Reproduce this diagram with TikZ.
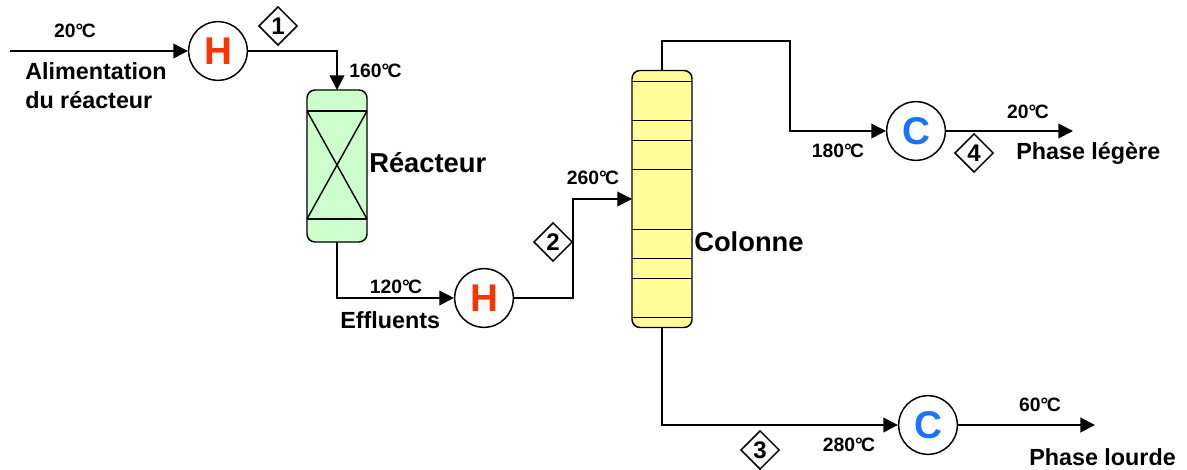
\documentclass[tikz,border=0pt]{standalone}
\usepackage{fontspec}
\setmainfont{Liberation Sans}
\usetikzlibrary{arrows.meta,shapes.geometric}
\definecolor{myheatred}{RGB}{255,51,0}
\definecolor{mycoolblue}{RGB}{26,115,255}
\definecolor{myreactorgreen}{RGB}{204,255,204}
\definecolor{mycolumnyellow}{RGB}{255,255,153}
\newcommand{\degC}{°\kern-0.08em C}
\newcommand{\temp}[1]{#1\degC}
\tikzset{
    pipe/.style={line width=1.4pt},
    flow/.style={pipe, -{Triangle[length=11pt, width=11pt]}},
    exch/.style={draw, circle, line width=1.1pt, fill=white, minimum size=44pt, inner sep=0pt, font=\fontsize{29}{29}\selectfont\bfseries},
    heater/.style={exch, text=myheatred},
    cooler/.style={exch, text=mycoolblue},
    vessel/.style={draw, rectangle, rounded corners=6pt, line width=1.1pt, minimum width=45pt, inner sep=0pt, outer sep=0pt},
    tray/.style={line width=1.1pt},
    stream/.style={diamond, draw, line width=1.1pt, fill=white, inner sep=0pt, minimum size=29pt, font=\fontsize{18}{18}\selectfont\bfseries},
    tlabel/.style={inner sep=0pt, font=\fontsize{14.5}{17}\selectfont\bfseries},
    slabel/.style={anchor=west, inner sep=0pt, font=\fontsize{17.5}{21.75}\selectfont\bfseries},
    ulabel/.style={anchor=west, inner sep=0pt, font=\fontsize{20.5}{24}\selectfont\bfseries}
}
\begin{document}
\begin{tikzpicture}[x=0.75pt, y=-0.75pt]
    \useasboundingbox (0,0) rectangle (1187,470);

    \node[heater] (h1) at (218,51) {H};
    \node[heater] (h2) at (484,298) {H};
    \node[cooler] (c1) at (916,131) {C};
    \node[cooler] (c2) at (928,425) {C};
    \node[vessel, fill=myreactorgreen, minimum height=114pt] (reactor) at (337,166) {};
    \node[vessel, fill=mycolumnyellow, minimum height=192.75pt] (col) at (662,199) {};

    \draw[tray] (reactor.north west) ++(0,21) coordinate (rtl) -- ++(60,0) coordinate (rtr);
    \draw[tray] (reactor.south west) ++(0,-23) coordinate (rbl) -- ++(60,0) coordinate (rbr);
    \draw[tray] (rtl) -- (rbr) (rtr) -- (rbl);
    \foreach \t in {11,50,70,99,159,188,208,247}
        \draw[tray] (col.north west) ++(0,\t) -- ++(60,0);

    \coordinate (feed) at (10,51);
    \coordinate (riser) at (573,199);
    \coordinate (top) at (790,41);
    \coordinate (light) at (1073,131);
    \coordinate (heavy) at (1095,425);

    \draw[flow] (feed) -- (h1);
    \draw[flow] (h1) -| (reactor);
    \draw[flow] (reactor) |- (h2);
    \draw[flow] (h2) -| (riser) -- (col);
    \draw[flow] (col) |- (top) |- (c1);
    \draw[flow] (c1) -- (light);
    \draw[flow] (col) |- (c2);
    \draw[flow] (c2) -- (heavy);

    \node[stream] (s1) at (278,26) {1};
    \node[stream] (s2) at (553,242) {2};
    \node[stream] (s3) at (760,450) {3};
    \node[stream] (s4) at (974,153) {4};

    \node[tlabel] (t1) at (75,31) {\temp{20}};
    \node[tlabel, anchor=west] (t2) at (349,71) {\temp{160}};
    \node[tlabel] (t3) at (396,287) {\temp{120}};
    \node[tlabel] (t4) at (593,178) {\temp{260}};
    \node[tlabel] (t5) at (838,151) {\temp{180}};
    \node[tlabel] (t6) at (1028,112) {\temp{20}};
    \node[tlabel] (t7) at (849,445) {\temp{280}};
    \node[tlabel] (t8) at (1040,405) {\temp{60}};

    \node[slabel, anchor=north west, align=left] (feedtxt) at (25,62) {Alimentation\\du réacteur};
    \node[slabel] (efftxt) at (340,320) {Effluents};
    \node[slabel] (lighttxt) at (1016,153) {Phase légère};
    \node[slabel] (heavytxt) at (1029,457) {Phase lourde};
    \node[ulabel] (reactxt) at (369,163) {Réacteur};
    \node[ulabel] (coltxt) at (694,242) {Colonne};
\end{tikzpicture}
\end{document}
